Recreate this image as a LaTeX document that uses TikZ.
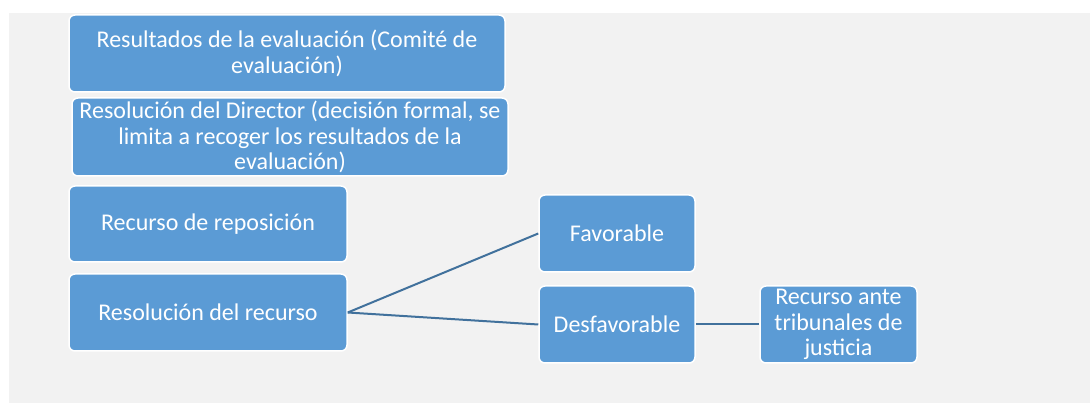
\documentclass[tikz,border=0pt]{standalone}
\usepackage{fontspec}
\setmainfont{Carlito}
\definecolor{boxblue}{HTML}{5B9BD5}
\definecolor{lineblue}{HTML}{41719C}
\definecolor{bggray}{HTML}{F2F2F2}
\begin{document}
\begin{tikzpicture}[x=1pt,y=-1pt,
  bx/.style={fill=boxblue,draw=white,line width=1.5pt,rounded corners=6pt,
    text=white,align=center,inner sep=0pt,
    font=\fontsize{24}{25.5}\selectfont},
  conn/.style={draw=lineblue,line width=2pt}]
\useasboundingbox (0,0) rectangle (1090,403);
\fill[bggray] (9,13) rectangle (1090,403);
\node[bx,minimum width=436pt,minimum height=77pt] (r1) at (287,53.5)
  {Resultados de la evaluación (Comité de\\evaluación)};
\node[bx,minimum width=436pt,minimum height=78pt] (r2) at (290,137)
  {Resolución del Director (decisión formal, se\\limita a recoger los resultados de la\\evaluación)};
\node[bx,minimum width=278pt,minimum height=76pt] (r3) at (208,224)
  {Recurso de reposición};
\node[bx,minimum width=278pt,minimum height=77pt] (r4) at (208,312.5)
  {Resolución del recurso};
\node[bx,minimum width=156pt,minimum height=77pt] (fav) at (617,233.5)
  {Favorable};
\node[bx,minimum width=156pt,minimum height=77pt] (des) at (617,324.5)
  {Desfavorable};
\node[bx,minimum width=157pt,minimum height=77pt] (tri) at (838.5,324.5)
  {Recurso ante\\tribunales de\\justicia};
\draw[conn] (r4.east) -- (fav.west);
\draw[conn] (r4.east) -- (des.west);
\draw[conn] (des.east) -- (tri.west);
\end{tikzpicture}
\end{document}
